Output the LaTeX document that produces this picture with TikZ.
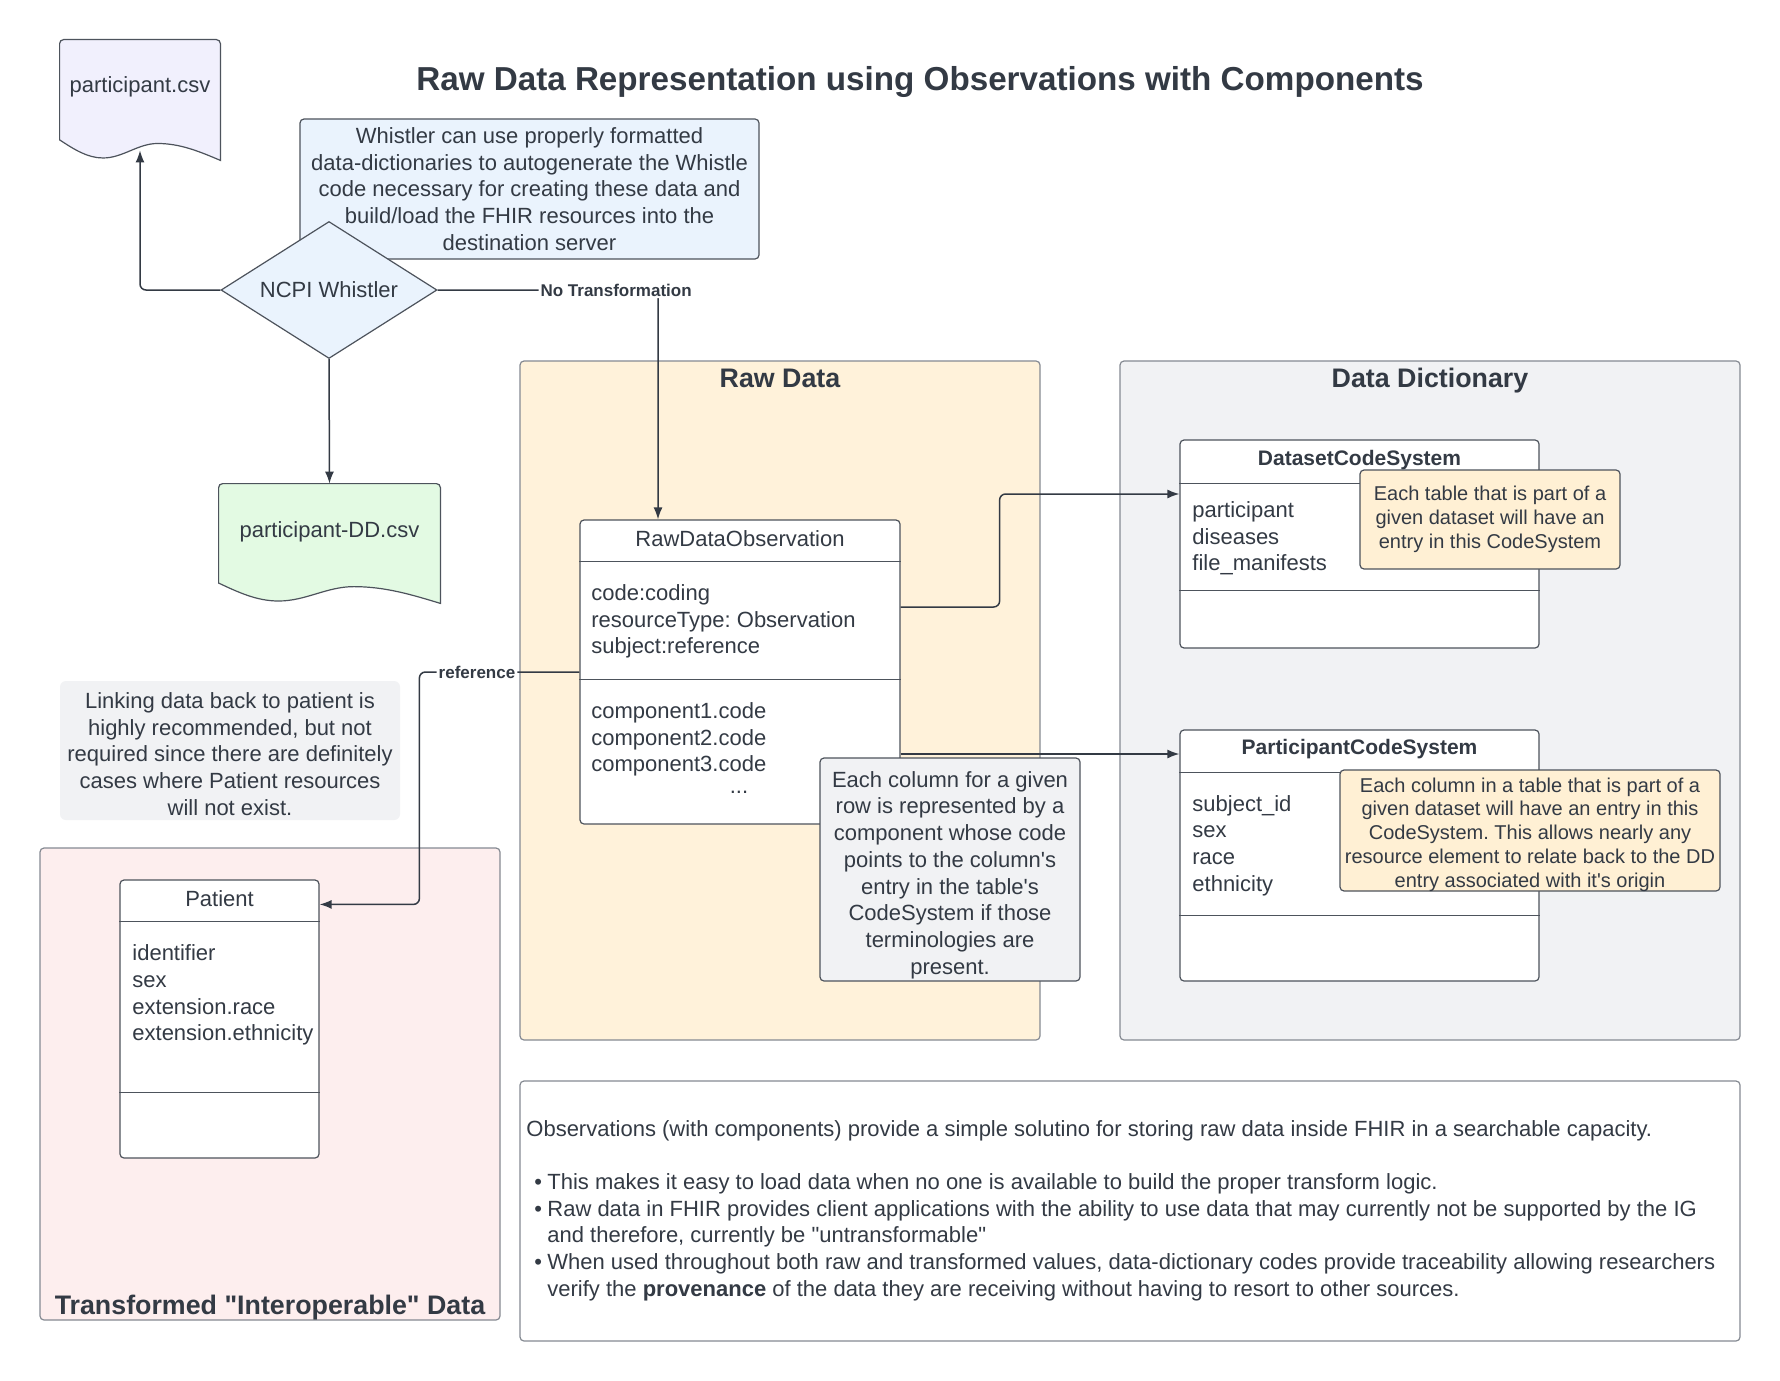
\documentclass[tikz,border=0pt]{standalone}
\usepackage{fontspec}
\setmainfont{Liberation Sans}
\usetikzlibrary{arrows.meta,shapes.geometric,calc,positioning}
\frenchspacing

\definecolor{ink}{HTML}{333A44}
\definecolor{classline}{HTML}{4D535C}
\definecolor{groupline}{HTML}{858A92}
\definecolor{rawfill}{HTML}{FFF2DA}
\definecolor{ddfill}{HTML}{F1F2F4}
\definecolor{trfill}{HTML}{FDEEEE}
\definecolor{lavender}{HTML}{F1F0FD}
\definecolor{mint}{HTML}{E3FAE3}
\definecolor{skyfill}{HTML}{EAF3FD}
\definecolor{notecream}{HTML}{FFF0D4}
\definecolor{greyfill}{HTML}{F1F2F4}

\begin{document}
\begin{tikzpicture}[x=0.5pt,y=-0.5pt,text=ink,
    every node/.style={font=\fontsize{11}{13.35}\selectfont},
    group/.style={draw=groupline,line width=0.6pt,rounded corners=2pt,inner sep=0pt},
    group title/.style={inner sep=0pt,font=\bfseries\fontsize{13.4}{16}\selectfont},
    class box/.style={draw=classline,fill=white,line width=0.6pt,rounded corners=2pt,inner sep=0pt},
    class name/.style={inner sep=0pt},
    code name/.style={inner sep=0pt,font=\bfseries\fontsize{10.5}{13}\selectfont},
    fields/.style={align=left,anchor=west,inner sep=0pt,yshift=-1.75pt},
    divider/.style={draw=classline,line width=0.6pt},
    note/.style={draw=classline,line width=0.6pt,rounded corners=2pt,inner sep=0pt},
    note text/.style={align=center,inner sep=0pt},
    small text/.style={note text,font=\fontsize{10}{11.9}\selectfont},
    doc line/.style={draw=classline,line width=0.6pt},
    flow/.style={draw=ink,line width=0.75pt,rounded corners=3pt,-{Latex[length=6pt,width=4.5pt]}},
    tag/.style={fill=white,inner sep=1pt,font=\bfseries\fontsize{8.5}{10}\selectfont}]

  \useasboundingbox[fill=white] (0,0) rectangle (1780,1380);

  \node[font=\bfseries\fontsize{16.6}{20}\selectfont] (title) at (920,82)
    {Raw Data Representation using Observations with Components};

  % containers
  \node[group,fill=rawfill,minimum width=260pt,minimum height=339.5pt] (rawgrp) at (780,700.5) {};
  \node[group title,below=4pt of rawgrp.north] (rawttl) {Raw Data};
  \node[group,fill=ddfill,minimum width=310pt,minimum height=339.5pt] (ddgrp) at (1430,700.5) {};
  \node[group title,below=3.5pt of ddgrp.north] (ddttl) {Data Dictionary};
  \node[group,fill=trfill,minimum width=230pt,minimum height=236pt] (trgrp) at (270,1084) {};
  \node[group title,above=0.3pt of trgrp.south] (trttl) {Transformed \textquotedbl Interoperable\textquotedbl\ Data};
  \node[group,fill=white,minimum width=610pt,minimum height=130pt] (summary) at (1130,1211) {};

  % csv documents
  \node[minimum width=80pt,minimum height=60pt,inner sep=0pt] (csv) at (140,100) {};
  \draw[doc line,fill=lavender] let \p1=(csv.south west), \p2=(csv.north east),
      \n1={\x2-\x1}, \n2={\y2-\y1} in
    (\x1,\y1+0.17*\n2) [rounded corners=2pt] -- (\x1,\y2) -- (\x2,\y2) [sharp corners] -- (\x2,\y1)
    sin (\x1+0.61*\n1,\y1+0.14*\n2) cos (\x1+0.44*\n1,\y1+0.08*\n2)
    sin (\x1+0.27*\n1,\y1+0.02*\n2) cos (\x1,\y1+0.17*\n2) -- cycle;
  \node (csvname) at (140,87) {participant.csv};

  \node[minimum width=110.5pt,minimum height=59.5pt,inner sep=0pt] (ddcsv) at (329.5,543.5) {};
  \draw[doc line,fill=mint] let \p1=(ddcsv.south west), \p2=(ddcsv.north east),
      \n1={\x2-\x1}, \n2={\y2-\y1} in
    (\x1,\y1+0.17*\n2) [rounded corners=2pt] -- (\x1,\y2) -- (\x2,\y2) [sharp corners] -- (\x2,\y1)
    sin (\x1+0.61*\n1,\y1+0.14*\n2) cos (\x1+0.44*\n1,\y1+0.08*\n2)
    sin (\x1+0.27*\n1,\y1+0.02*\n2) cos (\x1,\y1+0.17*\n2) -- cycle;
  \node (ddcsvname) at (329.5,532) {participant-DD.csv};

  % whistler
  \node[note,fill=skyfill,minimum width=229.5pt,minimum height=70pt] (whnote) at (529.5,189) {};
  \node[note text] (whnotetext) at (529.5,189)
    {Whistler can use properly formatted\\data-dictionaries to autogenerate the Whistle\\code necessary for creating these data and\\build/load the FHIR resources into the\\destination server};
  \node[diamond,draw=classline,line width=0.6pt,fill=skyfill,aspect=1.58,minimum width=108pt,
    minimum height=68.5pt,inner sep=0pt] (whistler) at (329,290) {NCPI Whistler};

  % classes
  \node[class box,minimum width=160pt,minimum height=152pt] (rawobs) at (740,672) {};
  \node[class name] (rawobsname) at (740,539) {RawDataObservation};
  \node[fields] (rawobsattr) at (591,618) {code:coding\\resourceType: Observation\\subject:reference};
  \node[fields] (rawobscomp) at (591,736) {component1.code\\component2.code\\component3.code};
  \node (rawobsmore) at (739,792) {...};

  \node[class box,minimum width=99.5pt,minimum height=139pt] (patient) at (219.5,1019) {};
  \node[class name] (patientname) at (219.5,899) {Patient};
  \node[fields] (patientattr) at (132,991.5) {identifier\\sex\\extension.race\\extension.ethnicity};

  \node[class box,minimum width=179.5pt,minimum height=104pt] (dscs) at (1359.5,544) {};
  \node[code name] (dscsname) at (1359.5,460) {DatasetCodeSystem};
  \node[fields] (dscsattr) at (1192,535) {participant\\diseases\\file\_manifests};

  \node[class box,minimum width=179.5pt,minimum height=125.5pt] (pcs) at (1359.5,855.5) {};
  \node[code name] (pcsname) at (1359.5,749) {ParticipantCodeSystem};
  \node[fields] (pcsattr) at (1192,842) {subject\_id\\sex\\race\\ethnicity};

  \foreach \cls/\dy in {rawobs/21,rawobs/80,patient/21,patient/106.5,dscs/22,dscs/75.5,pcs/21.5,pcs/93}
    \draw[divider] ([yshift=-\dy pt]\cls.north west) -- ([yshift=-\dy pt]\cls.north east);

  % notes
  \node[note,fill=notecream,minimum width=130pt,minimum height=49.5pt] (tblnote) at (1490,519.5) {};
  \node[small text] (tblnotetext) at (1490,519.5)
    {Each table that is part of a\\given dataset will have an\\entry in this CodeSystem};
  \node[note,fill=notecream,minimum width=190pt,minimum height=60.5pt] (colnote) at (1530,830.5) {};
  \node[small text] (colnotetext) at (1530,834.5)
    {Each column in a table that is part of a\\given dataset will have an entry in this\\CodeSystem. This allows nearly any\\resource element to relate back to the DD\\entry associated with it\textquotesingle s origin};
  \node[note,fill=greyfill,minimum width=130pt,minimum height=111.5pt] (rownote) at (950,869.5) {};
  \node[note text] (rownotetext) at (950,875)
    {Each column for a given\\row is represented by a\\component whose code\\points to the column\textquotesingle s\\entry in the table\textquotesingle s\\CodeSystem if those\\terminologies are\\present.};
  \node[fill=greyfill,rounded corners=3pt,inner sep=0pt,minimum width=170pt,
    minimum height=69.5pt] (linknote) at (230,750.5) {};
  \node[note text] (linknotetext) at (230,754)
    {Linking data back to patient is\\highly recommended, but not\\required since there are definitely\\cases where Patient resources\\will not exist.};

  \node[fields] (summarytext) at (526,1207)
    {Observations (with components) provide a simple solutino for storing raw data inside FHIR in a searchable capacity.\\[13.35pt]
     \hspace*{4pt}\makebox[6.5pt][l]{\textbullet}This makes it easy to load data when no one is available to build the proper transform logic.\\
     \hspace*{4pt}\makebox[6.5pt][l]{\textbullet}Raw data in FHIR provides client applications with the ability to use data that may currently not be supported by the IG\\
     \hspace*{10.5pt}and therefore, currently be \textquotedbl untransformable\textquotedbl\\
     \hspace*{4pt}\makebox[6.5pt][l]{\textbullet}When used throughout both raw and transformed values, data-dictionary codes provide traceability allowing researchers\\
     \hspace*{10.5pt}verify the \textbf{provenance} of the data they are receiving without having to resort to other sources.};

  % connectors
  \coordinate (dsout) at ([yshift=32.5pt]rawobs.east);
  \coordinate (pcout) at ([yshift=-41pt]rawobs.east);
  \draw[flow] (whistler.west) -| ([yshift=5pt]csv.south);
  \draw[flow] (whistler.south) -- (ddcsv.north);
  \draw[flow] (whistler.east) -| ([xshift=-41pt]rawobs.north) node[tag,pos=0.405] {No Transformation};
  \draw[flow] (rawobs.west) -- ++(-160,0) node[tag,pos=0.64] {reference} |- ([yshift=-12.5pt]patient.north east);
  \draw[flow] (dsout) -- ++(99,0) |- ([yshift=25pt]dscs.west);
  \draw[flow] (pcout) -- (pcout -| pcs.west);
\end{tikzpicture}
\end{document}
